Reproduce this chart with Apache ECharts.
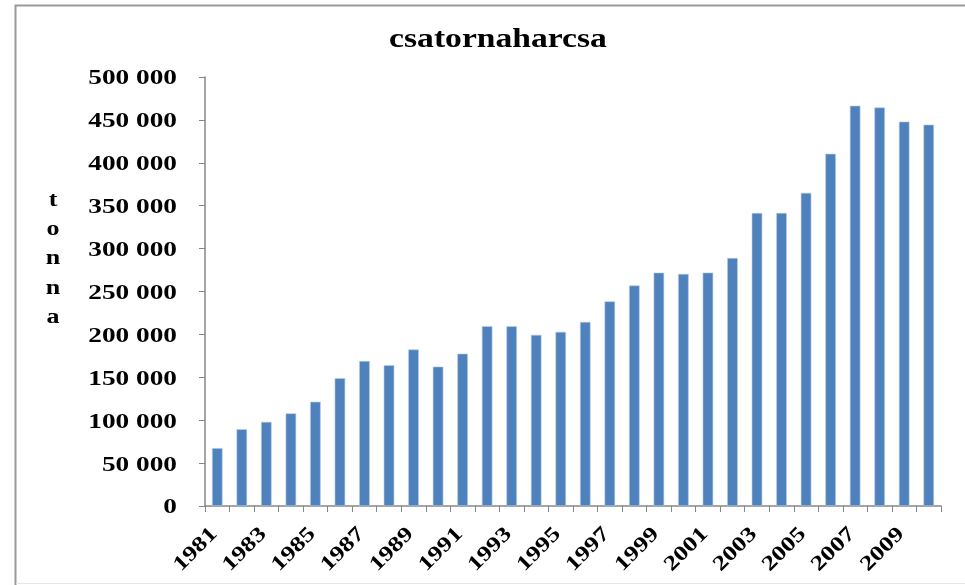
<!DOCTYPE html>
<html>
<head>
<meta charset="utf-8">
<script src="https://cdn.jsdelivr.net/npm/echarts@6/dist/echarts.min.js"></script>
<style>
  html, body {margin: 0; padding: 0; background: #fff;}
  #chart {width: 965px; height: 585px;}
</style>
</head>
<body>
<div id="chart"></div>
<script>
// years and catches (tonna)
const years = [
  '1981', '1982', '1983', '1984', '1985', '1986', '1987', '1988', '1989', '1990',
  '1991', '1992', '1993', '1994', '1995', '1996', '1997', '1998', '1999', '2000',
  '2001', '2002', '2003', '2004', '2005', '2006', '2007', '2008', '2009', '2010'
];
const tonna = [
  67500, 89500, 98000, 108000, 121500, 149000, 169000, 164000, 182500, 162500,
  177500, 209500, 209500, 199500, 203000, 214500, 238500, 257000, 272000, 270500,
  272000, 289000, 341500, 341500, 365000, 410500, 466500, 464500, 448000, 444500
];
const yTicks = [0, 50000, 100000, 150000, 200000, 250000, 300000, 350000, 400000, 450000, 500000];
const titleText = 'csatornaharcsa';
const yName = 'tonna';

const serif = '"Liberation Serif", "Times New Roman", serif';
const fmt = v => v === 0 ? '0' : String(v).replace(/\B(?=(\d{3})+(?!\d))/g, ' ');
// the original picture is stretched sideways, so the texts are widened
const stretch = 1.3;

const myChart = echarts.init(document.getElementById('chart'));
const option = {
  animation: false,
  grid: {left: 205, right: 24, top: 77, bottom: 79},
  xAxis: {
    type: 'category',
    data: years,
    boundaryGap: true,
    axisLine: {lineStyle: {color: '#868686', width: 1.5}},
    axisTick: {show: true, interval: 0, length: 6, lineStyle: {color: '#868686'}},
    axisLabel: {show: false}
  },
  yAxis: {
    type: 'value',
    min: yTicks[0],
    max: yTicks[yTicks.length - 1],
    interval: yTicks[1] - yTicks[0],
    axisLine: {show: true, lineStyle: {color: '#868686', width: 1.5}},
    axisTick: {show: true, length: 6, lineStyle: {color: '#868686'}},
    splitLine: {show: false},
    axisLabel: {show: false}
  },
  series: [{
    type: 'bar',
    data: tonna,
    barWidth: '43%',
    itemStyle: {color: '#4f81bd', borderColor: '#b9cde5', borderWidth: 0.6}
  }]
};
myChart.setOption(option);

// frame of the pasted picture
const gfx = [{
  type: 'polyline',
  shape: {points: [[15.5, 585], [15.5, 5.5], [965, 5.5]]},
  style: {fill: null, stroke: '#9a9a9a', lineWidth: 2},
  silent: true
}, {
  type: 'line',
  shape: {x1: 16, y1: 583.5, x2: 965, y2: 583.5},
  style: {stroke: '#e6e6e6', lineWidth: 1},
  silent: true
}, {
  type: 'text',
  x: 498, y: 40,
  scaleX: 1.2,
  style: {text: titleText, font: 'bold 28px ' + serif, fill: '#000', align: 'center', verticalAlign: 'middle'}
}, {
  type: 'text',
  x: 53, y: 186,
  scaleX: stretch,
  style: {text: yName.split('').join('\n'), font: 'bold 20px ' + serif, lineHeight: 29.3, fill: '#000', align: 'center', verticalAlign: 'top'}
}];

// texts placed through the axes, widened like the original
const axisX = myChart.convertToPixel({xAxisIndex: 0}, years[0]) -
  (myChart.convertToPixel({xAxisIndex: 0}, years[1]) - myChart.convertToPixel({xAxisIndex: 0}, years[0])) / 2;
yTicks.forEach(v => {
  const y = myChart.convertToPixel({yAxisIndex: 0}, v);
  gfx.push({
    type: 'text',
    x: axisX - 28, y: y + 2,
    scaleX: stretch,
    style: {text: fmt(v), font: 'bold 21px ' + serif, fill: '#000', align: 'right', verticalAlign: 'middle'}
  });
});

const axisY = myChart.convertToPixel({yAxisIndex: 0}, 0);
years.forEach((yr, i) => {
  if (i % 2) return;
  const x = myChart.convertToPixel({xAxisIndex: 0}, yr);
  gfx.push({
    type: 'text',
    x: x - 3, y: axisY + 25,
    rotation: Math.PI / 4,
    scaleX: 1.25,
    style: {text: yr, font: 'bold 21px ' + serif, fill: '#000', align: 'right', verticalAlign: 'middle'}
  });
});

myChart.setOption({graphic: gfx});
</script>
</body>
</html>
